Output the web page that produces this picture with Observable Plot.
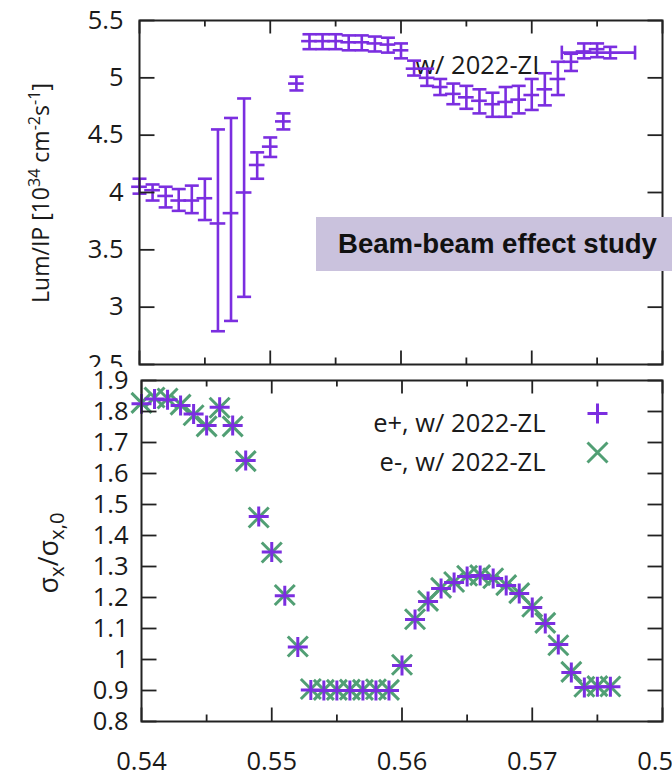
<!DOCTYPE html>
<html><head><meta charset="utf-8">
<script src="https://cdn.jsdelivr.net/npm/d3@7"></script>
<script src="https://cdn.jsdelivr.net/npm/@observablehq/plot@0.6"></script>
<style>
html,body{margin:0;padding:0;background:#fff;}
#wrap{position:relative;width:672px;height:770px;overflow:hidden;font-family:"Open Sans",sans-serif;color:#1a1a1a;background:#fff;}
#top{position:absolute;left:0;top:0;width:672px;height:367px;overflow:hidden;background:#fff;}
#bot{position:absolute;left:0;top:367px;width:672px;height:403px;overflow:hidden;background:#fff;}
.ylab{position:absolute;white-space:nowrap;line-height:1;transform:translate(-50%,-50%) rotate(-90deg);}
.ylab sup{font-size:0.7em;vertical-align:0.55em;line-height:0;}
.ylab sub{font-size:0.75em;vertical-align:-0.3em;line-height:0;}
#note{position:absolute;left:316px;top:217px;width:356px;height:54px;background:#cac2dd;font-family:"Liberation Sans",Arial,sans-serif;font-weight:bold;font-size:27.6px;line-height:54px;padding-left:22px;box-sizing:border-box;color:#111;white-space:nowrap;}
</style>
</head><body>
<div id="wrap">
  <div id="top"></div>
  <div id="bot"></div>
  <div class="ylab" style="left:40px;top:193px;font-size:23px;">Lum/IP [10<sup>34</sup> cm<sup>-2</sup>s<sup>-1</sup>]</div>
  <div class="ylab" style="left:47px;top:553px;font-size:27px;">σ<sub>x</sub>/σ<sub>x,0</sub></div>
  <div id="note">Beam-beam effect study</div>
</div>
<script>
// ---- data ----
const tune = [0.540,0.541,0.542,0.543,0.544,0.545,0.546,0.547,0.548,0.549,
              0.550,0.551,0.552,0.553,0.554,0.555,0.556,0.557,0.558,0.559,
              0.560,0.561,0.562,0.563,0.564,0.565,0.566,0.567,0.568,0.569,
              0.570,0.571,0.572,0.573,0.574,0.575,0.576];
const lumY  = [4.05,4.02,3.97,3.93,3.93,3.95,3.73,3.82,4.00,4.24,
               4.40,4.62,4.95,5.32,5.32,5.32,5.31,5.31,5.30,5.29,
               5.24,5.08,5.00,4.92,4.86,4.83,4.80,4.77,4.79,4.81,
               4.85,4.90,4.99,5.14,5.23,5.25,5.22];
const lumLo = [3.99,3.93,3.87,3.84,3.82,3.76,2.79,2.88,3.09,4.12,
               4.31,4.55,4.89,5.25,5.25,5.25,5.24,5.24,5.23,5.22,
               5.17,5.02,4.93,4.85,4.77,4.73,4.69,4.66,4.66,4.69,
               4.72,4.76,4.85,5.06,5.17,5.18,5.17];
const lumHi = [4.12,4.07,4.05,4.03,4.06,4.12,4.55,4.65,4.82,4.35,
               4.48,4.69,5.01,5.38,5.38,5.38,5.37,5.37,5.36,5.35,
               5.30,5.15,5.08,4.99,4.95,4.93,4.90,4.87,4.92,4.93,
               4.99,5.04,5.14,5.21,5.30,5.30,5.27];
const lumXErrLow  = [0.0006,0.0006,0.0006,0.0006,0.0006,0.0006,0.0006,0.0006,0.0006,0.0006,
                     0.0006,0.0006,0.0006,0.0006,0.0006,0.0006,0.0006,0.0006,0.0006,0.0006,
                     0.0006,0.0006,0.0006,0.0006,0.0006,0.0006,0.0006,0.0006,0.0006,0.0006,
                     0.0006,0.0006,0.0006,0.0006,0.0006,0.0006,0.0037];
const lumXErrHigh = [0.0006,0.0006,0.0006,0.0006,0.0006,0.0006,0.0006,0.0006,0.0006,0.0006,
                     0.0006,0.0006,0.0006,0.0006,0.0006,0.0006,0.0006,0.0006,0.0006,0.0006,
                     0.0006,0.0006,0.0006,0.0006,0.0006,0.0006,0.0006,0.0006,0.0006,0.0006,
                     0.0006,0.0006,0.0006,0.0006,0.0006,0.0006,0.0019];
const sigmaEp = [1.825,1.840,1.838,1.819,1.792,1.755,1.814,1.755,1.642,1.461,
                 1.347,1.206,1.040,0.902,0.900,0.900,0.900,0.900,0.900,0.900,
                 0.981,1.129,1.187,1.229,1.248,1.268,1.271,1.261,1.239,1.213,
                 1.168,1.116,1.048,0.958,0.910,0.912,0.912];
const sigmaEm = [1.828,1.845,1.842,1.822,1.788,1.752,1.812,1.752,1.640,1.458,
                 1.345,1.208,1.042,0.905,0.902,0.902,0.903,0.902,0.904,0.902,
                 0.983,1.130,1.189,1.231,1.250,1.270,1.272,1.262,1.240,1.214,
                 1.170,1.118,1.046,0.960,0.912,0.914,0.913];
const xMajor = [0.54,0.55,0.56,0.57,0.58];
const xMinor = [0.545,0.555,0.565,0.575];
const yTicksLum = [2.5,3,3.5,4,4.5,5,5.5];
const yTicksSig = [0.8,0.9,1,1.1,1.2,1.3,1.4,1.5,1.6,1.7,1.8,1.9];
const lumKey = "w/ 2022-ZL";
const sigKeys = ["e+, w/ 2022-ZL","e-, w/ 2022-ZL"];

// ---- styles ----
const PURPLE = "#7b2ee0";
const GREEN = "#519f74";
const INK = "#222";
const FONT = '"Open Sans", sans-serif';
const FS = 25.5;

// ---- custom symbols ----
const len = s => Math.sqrt(s / Math.PI);
const tickUp    = {draw(c, s){ const l = len(s); c.moveTo(0,0); c.lineTo(0,-l); }};
const tickDown  = {draw(c, s){ const l = len(s); c.moveTo(0,0); c.lineTo(0,l); }};
const tickRight = {draw(c, s){ const l = len(s); c.moveTo(0,0); c.lineTo(l,0); }};
const tickLeft  = {draw(c, s){ const l = len(s); c.moveTo(0,0); c.lineTo(-l,0); }};
const hBar = {draw(c, s){ const l = len(s); c.moveTo(-l,0); c.lineTo(l,0); }};
const vBar = {draw(c, s){ const l = len(s); c.moveTo(0,-l); c.lineTo(0,l); }};
const plusSym  = {draw(c, s){ const l = len(s); c.moveTo(-l,0); c.lineTo(l,0); c.moveTo(0,-l); c.lineTo(0,l); }};
const timesSym = {draw(c, s){ const l = len(s); c.moveTo(-l,-l); c.lineTo(l,l); c.moveTo(-l,l); c.lineTo(l,-l); }};

function frameTicks(yTicks){
  const o = {stroke: INK, strokeWidth: 1.8, fill: "none"};
  return [
    Plot.dot(xMajor, {x: d => d, frameAnchor: "bottom", symbol: tickUp, r: 14, ...o}),
    Plot.dot(xMinor, {x: d => d, frameAnchor: "bottom", symbol: tickUp, r: 7, ...o}),
    Plot.dot(xMajor, {x: d => d, frameAnchor: "top", symbol: tickDown, r: 13, ...o}),
    Plot.dot(xMinor, {x: d => d, frameAnchor: "top", symbol: tickDown, r: 6, ...o}),
    Plot.dot(yTicks, {y: d => d, frameAnchor: "left", symbol: tickRight, r: 15, ...o}),
    Plot.dot(yTicks, {y: d => d, frameAnchor: "right", symbol: tickLeft, r: 15, ...o}),
    Plot.frame({stroke: INK, strokeWidth: 2})
  ];
}

// ---- top panel ----
const lum = tune.map((x, i) => ({x, y: lumY[i], lo: lumLo[i], hi: lumHi[i],
  xl: x - lumXErrLow[i], xh: x + lumXErrHigh[i]}));
const lumWide = lum.filter(d => d.xh - d.xl > 0.002);
const eb = {stroke: PURPLE, strokeWidth: 2.6};

const topPlot = Plot.plot({
  width: 672, height: 367,
  marginTop: 20, marginBottom: 3, marginLeft: 139, marginRight: 10,
  style: {fontFamily: FONT, fontSize: FS + "px", color: "#1a1a1a", background: "transparent"},
  x: {domain: [0.54, 0.58], axis: null},
  y: {domain: [2.5, 5.5], ticks: yTicksLum, tickSize: 0, tickPadding: 16, tickFormat: d => String(d), label: null},
  marks: [
    Plot.text([lumKey], {text: d => d, frameAnchor: "top-right", dx: -117, dy: 35, textAnchor: "end", fontSize: FS, fill: "#1a1a1a"}),
    Plot.ruleX(lum, {x: "x", y1: "lo", y2: "hi", ...eb}),
    Plot.ruleY(lum, {y: "y", x1: "xl", x2: "xh", ...eb}),
    Plot.dot(lum, {x: "x", y: "lo", symbol: hBar, r: 7, fill: "none", ...eb}),
    Plot.dot(lum, {x: "x", y: "hi", symbol: hBar, r: 7, fill: "none", ...eb}),
    Plot.dot(lumWide, {x: "xl", y: "y", symbol: vBar, r: 7, fill: "none", ...eb}),
    Plot.dot(lumWide, {x: "xh", y: "y", symbol: vBar, r: 7, fill: "none", ...eb}),
    ...frameTicks(yTicksLum)
  ]
});
document.getElementById("top").appendChild(topPlot);

// ---- bottom panel ----
const ep = tune.map((x, i) => ({x, y: sigmaEp[i]}));
const em = tune.map((x, i) => ({x, y: sigmaEm[i]}));

const botPlot = Plot.plot({
  width: 672, height: 403,
  marginTop: 13, marginBottom: 49, marginLeft: 141, marginRight: 10,
  style: {fontFamily: FONT, fontSize: FS + "px", color: "#1a1a1a", background: "transparent"},
  x: {domain: [0.54, 0.58], ticks: xMajor, tickSize: 0, tickPadding: 30, tickFormat: d => String(d), label: null},
  y: {domain: [0.8, 1.9], ticks: yTicksSig, tickSize: 0, tickPadding: 13, tickFormat: d => String(d), label: null},
  marks: [
    Plot.dot(em, {x: "x", y: "y", symbol: timesSym, r: 10, fill: "none", stroke: GREEN, strokeWidth: 3}),
    Plot.dot(ep, {x: "x", y: "y", symbol: plusSym, r: 10, fill: "none", stroke: PURPLE, strokeWidth: 3}),
    Plot.text([sigKeys[0]], {text: d => d, frameAnchor: "top-right", dx: -117, dy: 33, textAnchor: "end", fontSize: FS, fill: "#1a1a1a"}),
    Plot.text([sigKeys[1]], {text: d => d, frameAnchor: "top-right", dx: -117, dy: 72, textAnchor: "end", fontSize: FS, fill: "#1a1a1a"}),
    Plot.dot([sigKeys[0]], {frameAnchor: "top-right", dx: -65, dy: 33, symbol: plusSym, r: 10, fill: "none", stroke: PURPLE, strokeWidth: 3}),
    Plot.dot([sigKeys[1]], {frameAnchor: "top-right", dx: -65, dy: 72, symbol: timesSym, r: 10, fill: "none", stroke: GREEN, strokeWidth: 3}),
    ...frameTicks(yTicksSig)
  ]
});
document.getElementById("bot").appendChild(botPlot);
</script>
</body></html>
